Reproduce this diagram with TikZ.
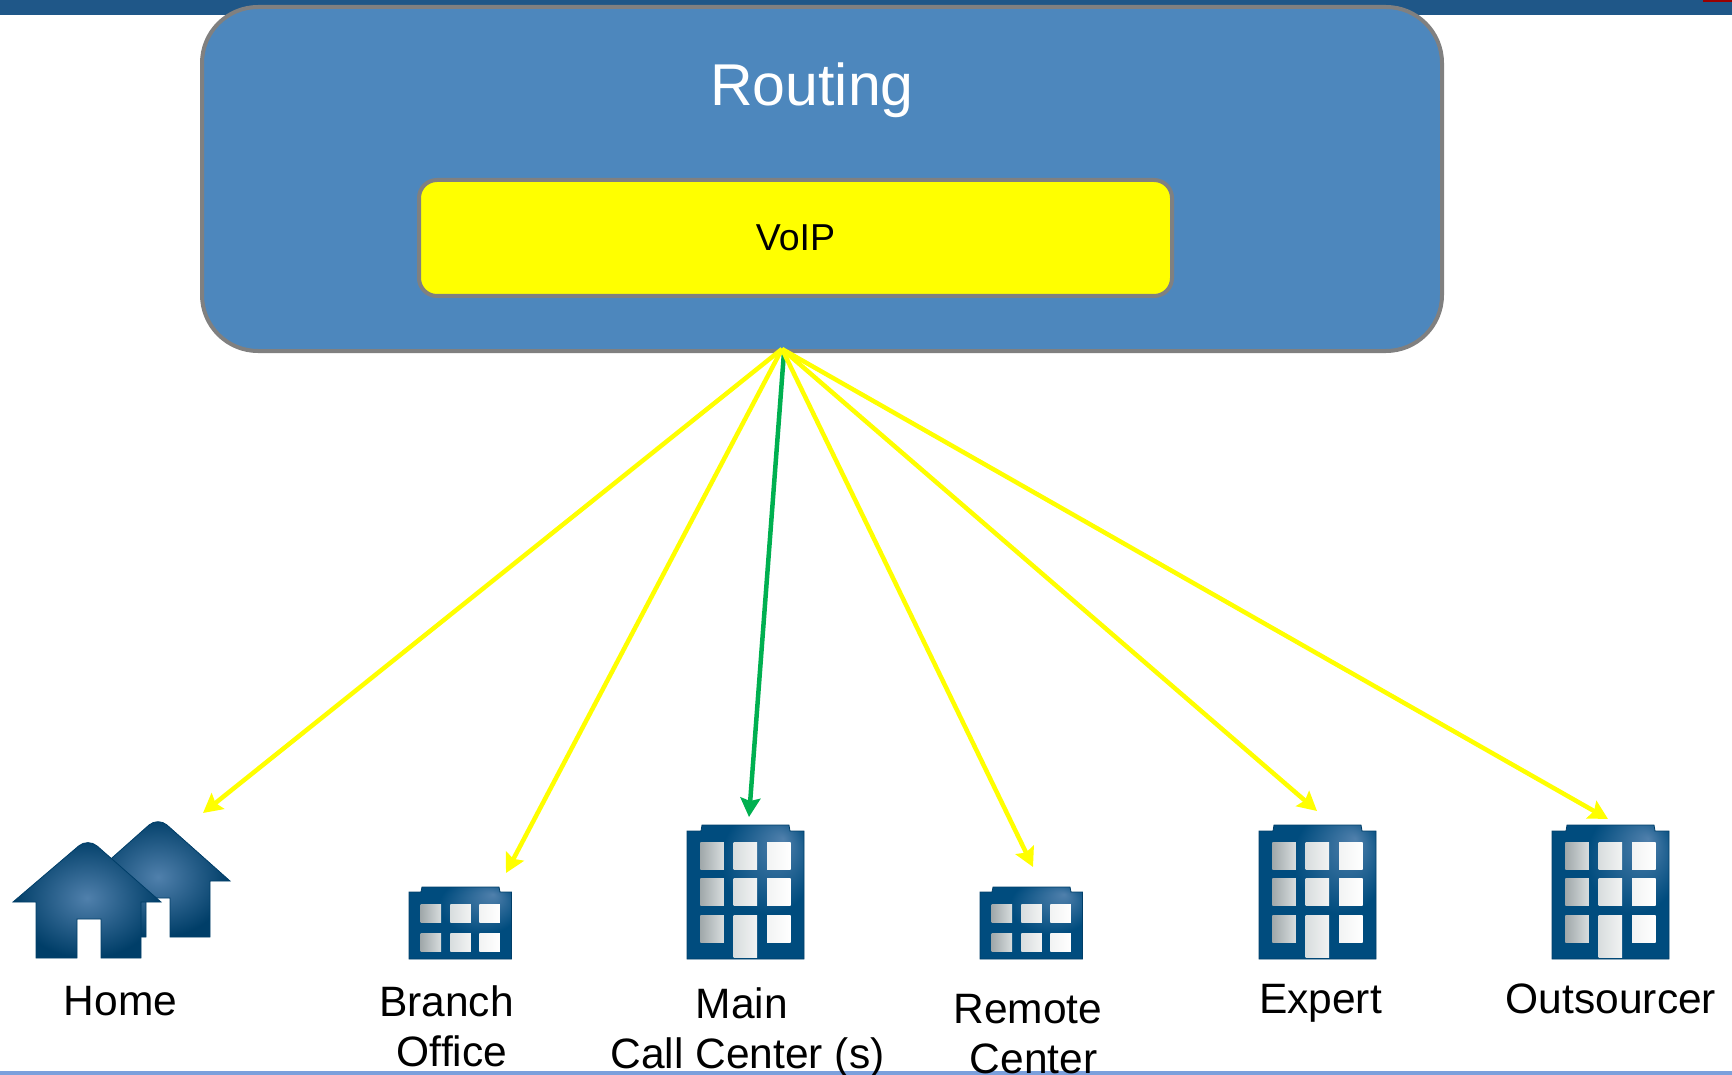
\documentclass[tikz,border=0pt]{standalone}
\usepackage{xcolor}
\usepackage{fontspec}
\setmainfont{Liberation Sans}
\usetikzlibrary{arrows.meta}
\definecolor{barblue}{HTML}{1F5788}
\definecolor{linkblue}{HTML}{7BA0DC}
\definecolor{routeblue}{HTML}{4D87BD}
\definecolor{edgegray}{HTML}{808080}
\definecolor{linkgreen}{HTML}{00B050}
\definecolor{pureyellow}{RGB}{255,255,0}
\definecolor{iconblue}{HTML}{004C7E}
\definecolor{iconglow}{HTML}{5080AC}
\definecolor{housedark}{HTML}{003E68}
\definecolor{wingray}{HTML}{A0A8AA}
\definecolor{winmid}{HTML}{D8DDDE}
\definecolor{winpale}{HTML}{F2F3F3}
\pgfdeclareradialshading{blockglow}{\pgfpoint{16bp}{20bp}}{
	color(0bp)=(iconglow); color(20bp)=(iconblue); color(50bp)=(iconblue)}
\begin{document}
\begin{tikzpicture}[
	x=1pt,y=-1pt,
	font=\fontsize{42.5}{50}\selectfont
]
\tikzset{
	routebox/.style = {rectangle, draw=edgegray, line width=4pt, fill=routeblue, rounded corners=56pt, minimum width=1240pt, minimum height=344pt},
	voipbox/.style = {rectangle, draw=edgegray, line width=4pt, fill=pureyellow, rounded corners=18pt, minimum width=753pt, minimum height=116pt, font=\fontsize{37.5}{45}\selectfont},
	sitelabel/.style = {anchor=base, align=center, inner sep=0pt},
	feedline/.style = {pureyellow, line width=4.5pt, -{Stealth[length=19pt,width=20pt,inset=3pt]}},
	mainline/.style = {linkgreen, line width=4.5pt, -{Stealth[length=19pt,width=20pt,inset=3pt]}},
	housebody/.style = {draw=housedark, line width=0.8pt, inner color=iconglow, outer color=housedark},
	blockbody/.style = {draw=housedark, line width=0.8pt, shading=blockglow},
	tallblock/.pic = {
		\path[blockbody] (0,0) -- (0,-128) -- (14,-128) -- (15,-134) -- (102,-134) -- (103,-128) -- (117,-128) -- (117,0) -- cycle;
		\foreach \wx/\wl/\wr in {13.3/wingray/winmid,46.7/winmid/winpale,80/winpale/white}{
			\foreach \wy in {-117,-81}
				\shade[left color=\wl,right color=\wr] (\wx,\wy) rectangle ++(23.5,27.5);
		}
		\shade[left color=wingray,right color=winmid] (13.3,-44) rectangle ++(23.5,27.5);
		\shade[left color=winmid,right color=winpale] (46.7,-44) rectangle ++(23.5,42);
		\shade[left color=winpale,right color=white] (80,-44) rectangle ++(23.5,27.5);
	},
	lowblock/.pic = {
		\path[blockbody] (0,0) -- (0,-67) -- (12,-67) -- (13,-72) -- (90,-72) -- (91,-67) -- (102.5,-67) -- (102.5,0) -- cycle;
		\foreach \wx/\wl/\wr in {11.7/wingray/winmid,41.3/winmid/winpale,70.3/winpale/white}{
			\foreach \wy in {-55,-26}
				\shade[left color=\wl,right color=\wr] (\wx,\wy) rectangle ++(20.5,18.5);
		}
	}
}
\useasboundingbox (0,0) rectangle (1732,1075);
\fill[barblue] (0,0) rectangle (1732,15);
\fill[red!60!black] (1703,0) rectangle (1732,2);
\fill[linkblue] (0,1071) rectangle (1732,1075);

\node[routebox] (routing) at (822,179) {};
\node[anchor=base, inner sep=0pt, text=white, font=\fontsize{59}{71}\selectfont] (routingtitle) at (812,106) {Routing};
\node[voipbox] (voip) at (795.5,238) {VoIP};

% houses
\path[housebody] (120,937) -- (120,881) -- (86,881) [rounded corners=12pt] -- (158,817) [sharp corners] -- (230,881) -- (210,881) -- (210,937) -- (170,937) -- (170,898) -- (146,898) -- (146,937) -- cycle;
\path[housebody] (13,902) [rounded corners=12pt] -- (88,838) [sharp corners] -- (161,902) -- (141,902) -- (141,958) -- (101,958) -- (101,919) -- (77,919) -- (77,958) -- (36,958) -- (36,902) -- cycle;

% buildings
\pic at (409,959) {lowblock};
\pic at (687,959) {tallblock};
\pic at (980,959) {lowblock};
\pic at (1259,959) {tallblock};
\pic at (1552,959) {tallblock};

\node[sitelabel] (home) at (120.5,1015) {Home};
\node[sitelabel] (branch) at (446.5,1066) {Branch\\\hspace{11pt}Office};
\node[sitelabel] (maincc) at (742,1068) {Main\\\hspace{11pt}Call Center (s)};
\node[sitelabel] (remote) at (1028,1073) {Remote\\\hspace{11pt}Center};
\node[sitelabel] (expert) at (1320.5,1013) {Expert};
\node[sitelabel] (outsourcer) at (1611,1013) {Outsourcer};

\coordinate (hub) at (782,349);
\coordinate (homeend) at (203,813);
\coordinate (branchend) at (506,873);
\coordinate (mainstart) at (784,352);
\coordinate (mainend) at (749,817);
\coordinate (remoteend) at (1033,867);
\coordinate (expertend) at (1317,811);
\coordinate (outsourcerend) at (1608,819);

\draw[mainline] (mainstart) -- (mainend);
\foreach \siteend in {homeend,branchend,remoteend,expertend,outsourcerend}
	\draw[feedline] (hub) -- (\siteend);
\end{tikzpicture}
\end{document}
